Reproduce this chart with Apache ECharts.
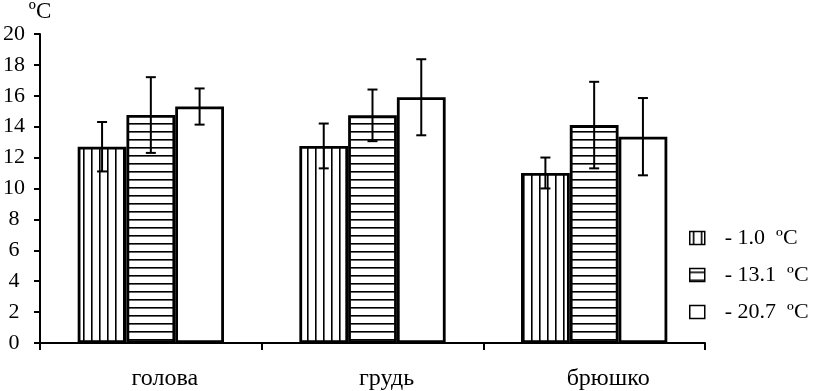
<!DOCTYPE html>
<html><head><meta charset="utf-8">
<script src="https://cdn.jsdelivr.net/npm/echarts@6/dist/echarts.min.js"></script>
<style>html,body{margin:0;padding:0;background:#fff}#c{width:817px;height:391px}</style>
</head><body><div id="c"></div>
<script>
const categories = ['голова', 'грудь', 'брюшко'];
const seriesNames = ['- 1.0  ºC', '- 13.1  ºC', '- 20.7  ºC'];
const valsA = [12.7, 12.75, 11.0];
const errA = [1.6, 1.45, 1.0];
const valsB = [14.75, 14.73, 14.1];
const errB = [2.45, 1.67, 2.8];
const valsC = [15.3, 15.9, 13.35];
const errC = [1.17, 2.46, 2.5];
const yTicks = [0, 2, 4, 6, 8, 10, 12, 14, 16, 18, 20];

const FONT = 'Liberation Serif';
const GAP = 0.34;

function pattern(dir) {
  const c = document.createElement('canvas');
  c.width = 8; c.height = 8;
  const g = c.getContext('2d');
  g.fillStyle = '#fff'; g.fillRect(0, 0, 8, 8);
  g.fillStyle = '#000';
  if (dir === 'v') g.fillRect(3, 0, 1.6, 8);
  else if (dir === 'h') g.fillRect(0, 3, 8, 1.6);
  return c;
}
const fills = [
  { image: pattern('v'), repeat: 'repeat' },
  { image: pattern('h'), repeat: 'repeat' },
  '#fff'
];
const allVals = [valsA, valsB, valsC];
const allErr = [errA, errB, errC];

const chart = echarts.init(document.getElementById('c'), null, { renderer: 'canvas' });

const barSeries = allVals.map((vals, i) => ({
  name: seriesNames[i],
  type: 'bar',
  data: vals,
  barGap: '0%',
  barCategoryGap: (GAP * 100) + '%',
  itemStyle: { color: fills[i], borderColor: '#000', borderWidth: 2.8 },
  emphasis: { disabled: true },
  z: 2
}));

const errSeries = allVals.map((vals, i) => ({
  type: 'custom',
  z: 5,
  silent: true,
  data: vals.map((v, k) => [k, v, allErr[i][k]]),
  renderItem: function (params, api) {
    const cat = api.value(0), v = api.value(1), e = api.value(2);
    const band = api.size([1, 0])[0];
    const bw = band * (1 - GAP) / 3;
    const cx = api.coord([cat, v])[0] + (i - 1) * bw;
    const top = api.coord([cat, v + e])[1];
    const bot = api.coord([cat, v - e])[1];
    const cap = 5;
    const st = { stroke: '#000', lineWidth: 2 };
    return {
      type: 'group',
      children: [
        { type: 'line', shape: { x1: cx, y1: top, x2: cx, y2: bot }, style: st },
        { type: 'line', shape: { x1: cx - cap, y1: top, x2: cx + cap, y2: top }, style: st },
        { type: 'line', shape: { x1: cx - cap, y1: bot, x2: cx + cap, y2: bot }, style: st }
      ]
    };
  }
}));

chart.setOption({
  animation: false,
  backgroundColor: '#fff',
  grid: { left: 40, right: 112, top: 30, bottom: 47, containLabel: false },
  legend: {
    data: seriesNames,
    orient: 'vertical',
    left: 684,
    top: 222,
    itemWidth: 15,
    itemHeight: 13,
    itemGap: 15,
    icon: 'rect',
    itemStyle: { borderColor: '#000', borderWidth: 1.5 },
    textStyle: { fontFamily: FONT, fontSize: 22, color: '#000', padding: [0, 0, 0, 15] },
    selectedMode: false
  },
  xAxis: {
    type: 'category',
    data: categories,
    axisLine: { lineStyle: { color: '#000', width: 2 } },
    axisTick: { show: true, length: 7, lineStyle: { color: '#000', width: 2 } },
    axisLabel: { fontFamily: FONT, fontSize: 24, color: '#000', margin: 24, padding: [0, 0, 0, 28] },
    splitLine: { show: false }
  },
  yAxis: {
    type: 'value',
    min: 0, max: 20, interval: 2,
    name: 'ºC',
    nameLocation: 'end',
    nameGap: 6,
    nameTextStyle: { fontFamily: FONT, fontSize: 23, color: '#000', align: 'center', padding: [0, 0, 0, 0] },
    axisLine: { show: true, lineStyle: { color: '#000', width: 2 } },
    axisTick: { show: true, length: 6, lineStyle: { color: '#000', width: 2 } },
    axisLabel: { fontFamily: FONT, fontSize: 22, color: '#000', margin: 26, align: 'center',
      formatter: v => yTicks.includes(v) ? String(v) : '' },
    splitLine: { show: false }
  },
  series: barSeries.concat(errSeries)
});
</script></body></html>
